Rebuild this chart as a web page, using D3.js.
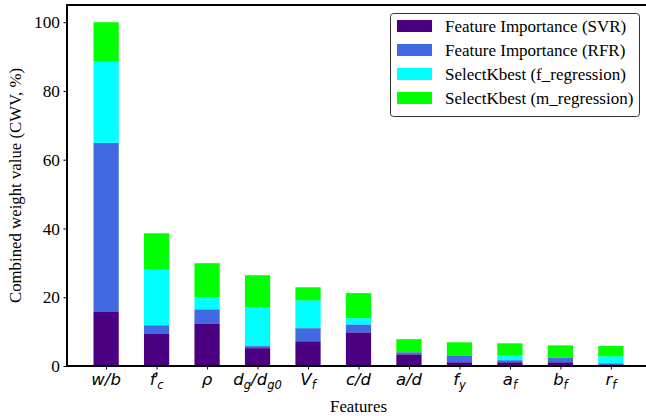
<!DOCTYPE html>
<html><head><meta charset="utf-8">
<script src="https://cdn.jsdelivr.net/npm/d3@7"></script>
<style>
html,body{margin:0;padding:0;background:#fff;overflow:hidden}
svg{display:block}
</style></head>
<body>
<svg id="chart" width="646" height="416"></svg>
<script>
const features = ["w/b","f'c","rho","dg/dg0","Vf","c/d","a/d","fy","af","bf","rf"];
const svr  = [15.9, 9.5, 12.4, 5.2, 7.2, 9.8, 3.4, 1.1, 1.1, 1.1, 0.5];
const rfr  = [49.0, 2.35, 4.1, 0.6, 3.8, 2.3, 0.6, 2.0, 0.6, 1.4, 0.3];
const freg = [23.8, 16.35, 3.5, 11.3, 8.1, 1.8, 0.0, 0.0, 1.4, 0.0, 2.0];
const mreg = [11.3, 10.4, 9.9, 9.3, 3.8, 7.3, 3.8, 3.8, 3.5, 3.5, 3.0];
const seriesNames = ["Feature Importance (SVR)","Feature Importance (RFR)","SelectKbest (f_regression)","SelectKbest (m_regression)"];
const colors = ["#4B0082","#4169E1","#00FFFF","#00FF00"];
const yTicks = [0,20,40,60,80,100];
// label parts: [text, style] style: n normal, b sub, p prime, q sub stacked under prime
const tickLabels = [
  [["w/b","n"]],
  [["f","n"],["'","p"],["c","q"]],
  [["ρ","n"]],
  [["d","n"],["g","b"],["/d","n"],["g0","b"]],
  [["V","n"],["f","b"]],
  [["c/d","n"]],
  [["a/d","n"]],
  [["f","n"],["y","b"]],
  [["a","n"],["f","b"]],
  [["b","n"],["f","b"]],
  [["r","n"],["f","b"]]
];

const svg = d3.select("#chart");
const L = 67, T = 5, R = 650, B = 366;
const x = d3.scaleLinear().domain([-0.775, features.length - 1 + 0.775]).range([L, R]);
const y = d3.scaleLinear().domain([0, 105]).range([B, T]);
const bw = x(0.5) - x(0);

const table = features.map((f,i)=>({f, i, s0: svr[i], s1: rfr[i], s2: freg[i], s3: mreg[i]}));
const stack = d3.stack().keys(["s0","s1","s2","s3"])(table);

const g = svg.append("g");
stack.forEach((layer, k) => {
  g.selectAll(null).data(layer).enter().append("rect")
    .attr("x", d => x(d.data.i) - bw/2)
    .attr("width", bw)
    .attr("y", d => y(d[1]))
    .attr("height", d => Math.max(0, y(d[0]) - y(d[1])))
    .attr("fill", colors[k]);
});

// axes
const serif = "'Liberation Serif','Times New Roman',serif";
const yAxis = svg.append("g").attr("transform", `translate(${L},0)`)
  .call(d3.axisLeft(y).tickValues(yTicks).tickSize(3.5).tickPadding(3.5));
yAxis.select(".domain").remove();
yAxis.selectAll("line").attr("stroke","#000").attr("stroke-width",1);
yAxis.selectAll("text").attr("font-family", serif).attr("font-size", 17.3).attr("fill","#000");

const xAxis = svg.append("g").attr("transform", `translate(0,${B})`)
  .call(d3.axisBottom(x).tickValues(d3.range(features.length)).tickSize(3.5).tickFormat(""));
xAxis.select(".domain").remove();
xAxis.selectAll("line").attr("stroke","#000").attr("stroke-width",1);

// x tick labels (math style)
const xl = svg.append("g");
tickLabels.forEach((parts, i) => {
  const t = xl.append("text")
    .attr("x", x(i)).attr("y", B + 19)
    .attr("text-anchor","middle")
    .attr("font-family","'DejaVu Sans',sans-serif")
    .attr("font-style","italic")
    .attr("font-size", 16.5);
  let cur = 0;
  parts.forEach(([s, st]) => {
    const ts = t.append("tspan").text(s);
    let target = 0;
    if (st === "b") { ts.attr("font-size", 11.5); target = 4; }
    else if (st === "p") { ts.attr("font-size", 15).attr("dx", -1); target = -1; }
    else if (st === "q") { ts.attr("font-size", 11.5).attr("dx", -1.5); target = 4; }
    ts.attr("dy", target - cur);
    cur = target;
  });
});

// spines
svg.append("path").attr("d", `M${L},${T}H${R}V${B}H${L}Z`)
  .attr("fill","none").attr("stroke","#000").attr("stroke-width",2);

// axis labels
svg.append("text").attr("x", (L+R)/2).attr("y", 412)
  .attr("text-anchor","middle").attr("font-family", serif).attr("font-size", 16.8)
  .text("Features");
svg.append("text").attr("transform", `translate(21,${(T+B)/2}) rotate(-90)`)
  .attr("text-anchor","middle").attr("font-family", serif).attr("font-size", 16.8)
  .text("Combined weight value (CWV, %)");

// legend
const lg = svg.append("g");
lg.append("rect").attr("x", 390.5).attr("y", 13.5).attr("width", 249).attr("height", 103)
  .attr("rx", 3).attr("fill","#fff").attr("fill-opacity",0.8).attr("stroke","#333").attr("stroke-width",1);
seriesNames.forEach((name, k) => {
  const yy = 26 + k*24;
  lg.append("rect").attr("x", 397).attr("y", yy - 6).attr("width", 35).attr("height", 12).attr("fill", colors[k]);
  lg.append("text").attr("x", 445).attr("y", yy + 5.5).attr("font-family", serif).attr("font-size", 17).text(name);
});
</script>
</body></html>
